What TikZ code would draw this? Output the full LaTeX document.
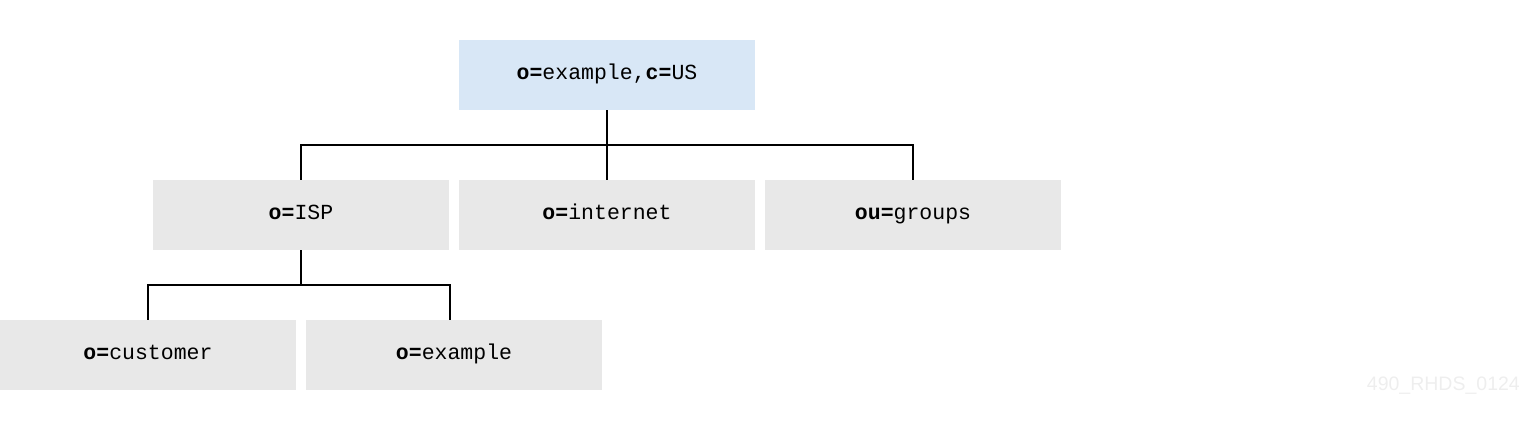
\documentclass[tikz,border=0pt]{standalone}
\usepackage{fontspec}
\setmonofont{Liberation Mono}
\newfontfamily\wmfont{Liberation Sans}
\definecolor{rootblue}{HTML}{D8E7F6}
\definecolor{boxgray}{HTML}{E8E8E8}
\definecolor{wmgray}{HTML}{EEEEEE}
\begin{document}
\begin{tikzpicture}[x=1pt,y=-1pt,
  entry/.style={fill=boxgray, draw=none, minimum width=296pt, minimum height=70pt, inner sep=0pt, text height=0.95em, text depth=0.05em, font=\ttfamily\fontsize{21.5}{24}\selectfont},
  rootentry/.style={entry, fill=rootblue},
  link/.style={draw=black, line width=1.6pt}]
\useasboundingbox (0,0) rectangle (1520,425);
\node[rootentry] (root) at (607,75) {\textbf{o=}example,\textbf{c=}US};
\node[entry] (isp) at (301,215) {\textbf{o=}ISP};
\node[entry] (internet) at (607,215) {\textbf{o=}internet};
\node[entry] (groups) at (913,215) {\textbf{ou=}groups};
\node[entry] (customer) at (148,355) {\textbf{o=}customer};
\node[entry] (example) at (454,355) {\textbf{o=}example};
\coordinate (j1) at (607,145);
\coordinate (j2) at (301,285);
\draw[link] (root.south) -- (j1);
\draw[link] (j1) -- (internet.north);
\draw[link] (isp.north) |- (groups.north |- j1) -- (groups.north);
\draw[link] (isp.south) -- (j2);
\draw[link] (customer.north) |- (j2) -| ([xshift=-4pt]example.north);
\node[anchor=base east, inner sep=0pt, text=wmgray, font=\wmfont\fontsize{19.5}{22}\selectfont] (wm) at (1520,390) {490\_RHDS\_0124};
\end{tikzpicture}
\end{document}
